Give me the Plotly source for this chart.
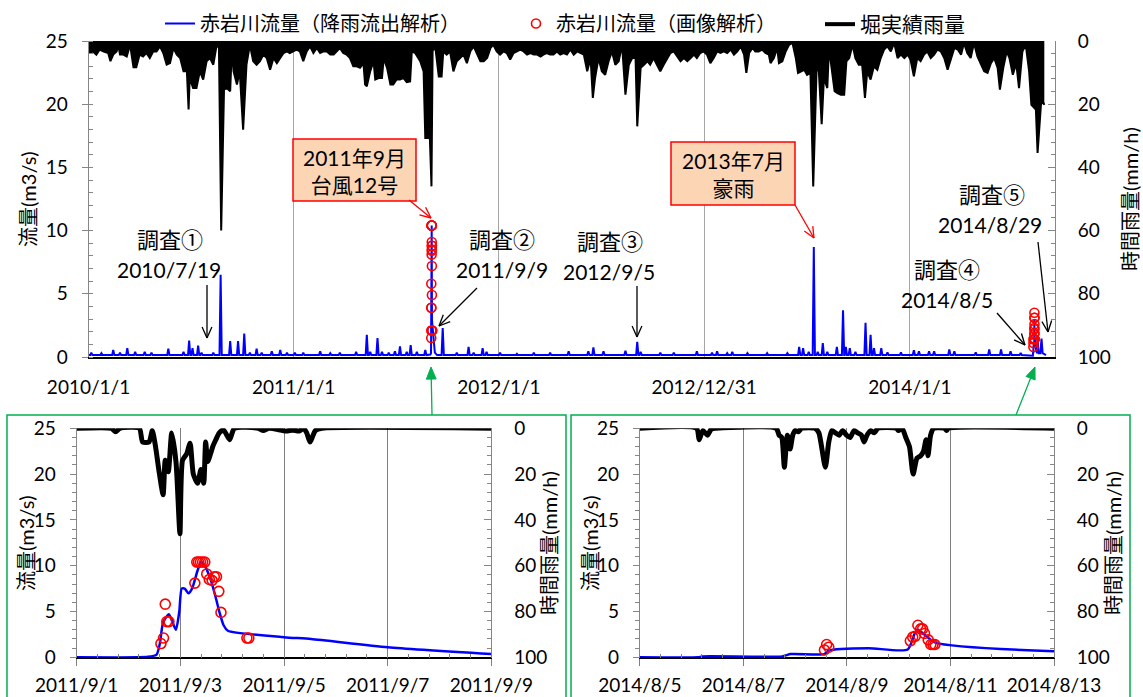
import math
import pandas as pd
import plotly.graph_objects as go

W, H = 1143, 697
FONT = "Lato, 'Noto Sans CJK JP', sans-serif"
JP = "'Noto Sans CJK JP', sans-serif"

# ---------------- main chart data (days since 2010-01-01) ----------------
main_start = "2010-01-01"
main_end_day = 1719

x_tick_dates = ["2010-01-01", "2011-01-01", "2012-01-01", "2012-12-31", "2014-01-01"]
x_tick_text = ["2010/1/1", "2011/1/1", "2012/1/1", "2012/12/31", "2014/1/1"]

flow_day = [0, 3, 5, 7, 21, 23, 25, 42, 44, 46, 54, 56, 58, 67, 69, 71, 81, 83, 85, 98, 100, 102,
            110, 112, 114, 140, 142, 144, 167, 169, 171, 177, 179, 181, 183, 185, 187, 193, 195, 197,
            199, 201, 203, 220, 222, 224, 233, 235, 237, 250, 252, 254, 264, 266, 268, 275, 277, 279,
            285, 287, 289, 297, 299, 301, 306, 308, 310, 324, 326, 328, 339, 341, 343, 351, 353, 355,
            365, 367, 369, 380, 382, 384, 410, 412, 414, 428, 430, 432, 445, 447, 449, 474, 476, 478,
            493, 495, 497, 499, 501, 503, 512, 514, 516, 520, 522, 524, 532, 534, 536, 543, 545, 547,
            552, 554, 556, 564, 566, 568, 571, 573, 575, 582, 584, 586, 597, 599, 601,
            604, 608, 609.2, 609.9, 610.4, 610.9, 612, 614, 616, 620,
            628, 630, 632,
            653, 655, 657, 674, 676, 678, 683, 685, 687, 699, 701, 703, 706, 708, 710, 730, 732, 734,
            760, 762, 764, 790, 792, 794, 819, 821, 823, 852, 854, 856, 887, 889, 891, 896, 898, 900,
            914, 916, 918, 953, 955, 957, 974, 976, 978, 980, 982, 984, 1015, 1017, 1019, 1039, 1041, 1043,
            1080, 1082, 1084, 1107, 1109, 1111, 1116, 1118, 1120, 1134, 1136, 1138,
            1143, 1145, 1147, 1170, 1172, 1174, 1205, 1207, 1209, 1241, 1243, 1245, 1262, 1264, 1266,
            1269, 1271, 1273, 1279, 1281, 1283, 1288, 1290, 1292, 1295, 1297, 1299, 1304, 1306, 1308,
            1312, 1314, 1316, 1329, 1331, 1333, 1340, 1342, 1344, 1345, 1347, 1349, 1352, 1354, 1356,
            1362, 1364, 1366, 1380, 1382, 1384, 1389, 1391, 1393, 1395, 1397, 1399, 1408, 1410, 1412,
            1419, 1421, 1423, 1443, 1445, 1447, 1466, 1468, 1470, 1475, 1477, 1479, 1493, 1495, 1497,
            1502, 1504, 1506, 1529, 1531, 1533, 1538, 1540, 1542, 1576, 1578, 1580, 1600, 1602, 1604,
            1621, 1623, 1625, 1638, 1640, 1642, 1656, 1658, 1660,
            1675, 1678, 1679.7, 1680.0, 1680.5, 1680.6, 1681.4, 1682.1, 1682.3, 1682.65, 1685, 1687,
            1688, 1690, 1693, 1695, 1697, 1700, 1703]
flow_val = [0.15, .15, .35, .15, .15, .3, .15, .15, .55, .15, .15, .35, .15, .15, .7, .15, .15, .4, .15,
            .15, .4, .15, .15, .35, .15, .15, .65, .15, .15, .4, .15, .15, 1.3, .15, .15, .7, .15,
            .15, .9, .15, .15, .35, .15, .15, .35, .15, .15, 6.5, .15, .15, 1.25, .15, .15, 1.25, .15,
            .15, 1.85, .15, .15, .35, .15, .15, .65, .15, .15, .35, .15, .15, .45, .15, .15, .55, .15,
            .15, .35, .15,
            .15, .35, .15, .15, .35, .15, .15, .45, .15, .15, .3, .15, .15, .35, .15, .15, .4, .15,
            .15, 1.75, .15, .15, .4, .15, .15, 1.5, .15, .15, .4, .15, .15, .35, .15, .15, .45, .15,
            .15, .85, .15, .15, .4, .15, .15, .95, .15, .15, .4, .15, .15, .55, .15,
            0.15, 0.2, 0.3, 4.7, 10.4, 2.9, 2.2, 1.1, 0.35, 0.15,
            .15, 2.3, .15,
            .15, .35, .15, .15, .8, .15, .15, .35, .15, .15, .7, .15, .15, .4, .15, .15, .35, .15,
            .15, .25, .15, .15, .35, .15, .15, .35, .15, .15, .45, .15, .15, .45, .15, .15, .75, .15,
            .15, .45, .15, .15, .5, .15, .15, 1.2, .15, .15, .4, .15, .15, .35, .15, .15, .35, .15,
            .15, .45, .15, .15, .35, .15, .15, .45, .15, .15, .3, .15,
            .15, .4, .15, .15, .3, .15, .15, .3, .15, .15, .3, .15, .15, .8, .15,
            .15, .7, .15, .15, .4, .15, .15, 8.7, .15, .15, .4, .15, .15, 1.1, .15,
            .15, .4, .15, .15, .8, .15, .15, 3.7, .15, .15, .8, .15, .15, .7, .15,
            .15, .4, .15, .15, 2.7, .15, .15, 1.75, .15, .15, .7, .15, .15, .7, .15,
            .15, .37, .15, .15, .37, .15, .15, .53, .15, .15, .45, .15, .15, .45, .15,
            .15, .45, .15, .15, .6, .15, .15, .45, .15, .15, .37, .15, .15, .6, .15,
            .15, .6, .15, .15, .45, .15, .15, .32, .15,
            0.15, 0.1, 0.1, 0.35, 0.35, 0.75, 1.0, 0.85, 3.0, 1.6, 0.65, 0.3,
            1.4, 0.3, 0.3, 1.45, 0.3, 0.2, 0.15]

rain_day = [0, 2, 8, 14, 20, 26, 35, 39, 44, 50, 53, 56, 62, 68, 74, 80, 85, 91, 97, 103,
            109, 115, 121, 127, 133, 139, 145, 151, 157, 163, 169, 175, 178, 180, 186, 192, 198, 204, 210, 216,
            222, 228, 232, 236, 241, 246, 252, 255, 258, 264, 269, 275, 281, 287, 293, 299, 305, 311, 317, 323,
            329, 335, 341, 347, 353, 358, 364, 370, 376, 382, 388, 394, 400, 406, 412, 418, 424, 430, 436, 442,
            447, 453, 459, 465, 471, 477, 483, 489, 492, 495, 501, 507, 510, 516, 522, 525, 531, 537, 542, 548,
            554, 560,
            566, 572, 575, 581, 590, 596, 599, 603, 607, 610, 612, 617, 623, 628, 631, 637, 643, 649, 655, 661,
            667, 673, 679, 685, 691, 697, 703, 709, 715, 720, 726, 732, 738, 744, 750, 756, 762, 768, 774, 780,
            786, 792, 798, 804, 809, 815, 821, 827, 833, 839, 845, 851, 857, 863, 869, 875, 881, 887, 893, 897,
            901, 907, 913, 919, 925, 931, 937, 943, 949, 955, 961, 967, 973, 976, 982, 988, 994, 999, 1005, 1011,
            1017, 1023, 1029, 1035, 1041, 1047, 1053, 1059, 1065, 1071, 1077, 1082, 1088, 1094, 1100, 1106, 1112,
            1118, 1124, 1130,
            1136, 1142, 1148, 1154, 1160, 1166, 1170, 1175, 1181, 1186, 1192, 1198, 1204, 1210, 1213, 1219, 1225,
            1228, 1234, 1240, 1246, 1252, 1258, 1262, 1267, 1273, 1278, 1284, 1289, 1295, 1299, 1304, 1308, 1314,
            1317, 1323, 1327, 1332, 1338, 1344, 1348, 1353, 1359, 1364, 1370, 1376, 1381, 1385, 1391, 1397, 1403,
            1409, 1415, 1421, 1427, 1433, 1439, 1445, 1451, 1457, 1462, 1468, 1474, 1480, 1486, 1492, 1498, 1504,
            1510, 1516, 1522, 1528, 1534, 1540, 1546, 1552, 1557, 1563, 1569, 1575, 1581, 1587, 1593, 1599, 1605,
            1611, 1617, 1621, 1627, 1633, 1638, 1644, 1650, 1655, 1661, 1667, 1673, 1677, 1682, 1685, 1688, 1694,
            1697, 1700]
rain_mm = [3.8, 3.8, 3.3, 4.3, 2.7, 3.3, 3.8, 6.4, 4.3, 3.3, 1.2, 4.3, 4.3, 4.9, 1.2, 8.3, 8.3, 4.3, 4.9, 3.8,
           5.4, 3.3, 3.3, 1.7, 3.8, 7.5, 7.0, 2.2, 4.3, 5.4, 9.6, 9.6, 21.7, 11.7, 14.9, 14.9, 9.6, 12.2, 6.4, 5.4,
           7.5, 1.2, 2.2, 60, 15.4, 14.9, 15.9, 2.2, 9.6, 13.8, 9.6, 28.1, 7.5, 1.2, 6.4, 7.5, 6.4, 4.3, 5.4, 9.1,
           5.4, 7.0, 5.4, 3.8, 3.3, 3.8, 3.3, 2.7, 3.3, 6.4, 3.3, 1.7, 3.8, 2.2, 3.8, 3.3, 3.3, 4.3, 4.3, 3.3,
           2.2, 3.8, 4.3, 5.4, 8.0, 8.0, 8.5, 7.0, 13.8, 14.3, 9.6, 6.4, 12.2, 11.7, 11.7, 5.4, 8.5, 13.8, 13.8, 12.2,
           12.2, 11.7,
           13, 12.8, 3.3, 3.8, 6.4, 9.6, 30.7, 30.7, 30, 46, 3, 2.2, 11.2, 11.2, 3.3, 4.3, 3.3, 9.6, 6.4, 5.4,
           4.3, 7.0, 3.3, 1.7, 4.3, 6.4, 6.4, 5.4, 2.2, 1.2, 3.3, 4.3, 3.3, 3.8, 5.9, 3.8, 3.3, 2.7, 3.3, 4.3,
           3.8, 4.3, 4.3, 4.9, 4.3, 3.8, 4.3, 4.3, 3.3, 4.3, 3.8, 4.3, 2.7, 4.3, 3.3, 3.8, 4.3, 9.6, 5.4, 18,
           11.7, 5.4, 9.6, 10.7, 6.4, 3.3, 7.5, 6.4, 1.2, 17, 7.5, 5.4, 5.4, 27, 8.5, 7.5, 6.4, 7.5, 5.4, 7.5,
           9.6, 7.5, 5.4, 3.8, 3.3, 4.9, 6.4, 5.4, 6.4, 5.4, 4.3, 5.4, 3.8, 3.3, 4.3, 7.0, 5.4,
           3.3, 3.8, 3.3,
           3.8, 2.7, 4.3, 3.3, 1.7, 4.3, 10.1, 3.8, 2.2, 3.3, 3.3, 2.7, 3.8, 4.3, 7.0, 5.4, 2.2,
           7.0, 6.4, 3.3, 1.2, 0.6, 5.4, 10.1, 9.6, 9.1, 10.7, 10.1, 46, 8.5, 9.6, 26.3, 11.7, 14.9,
           2.2, 9.6, 15.9, 16.5, 17, 17, 6.4, 5.4, 1.2, 5.4, 7.5, 7.5, 18, 9.6, 12.2, 8.0, 9.1,
           5.4, 2.7, 1.7, 3.3, 0.6, 5.4, 4.3, 5.4, 4.3, 5.9, 11.2, 5.4, 6.4, 4.3, 3.3, 5.4, 4.3,
           2.7, 3.3, 5.4, 9.1, 5.4, 2.2, 2.7, 4.3, 0.6, 3.8, 5.4, 0.6, 4.9, 7.5, 9.6, 10.1, 7.0,
           5.4, 8.5, 15.4, 8.5, 3.3, 5.4, 10.7, 7.0, 14.9, 3.3, 1.2, 9.6, 20.2, 21, 21.7, 35.4, 20.2,
           19, 20.2]

# ---------------- inset A (hours since 2011-09-01 00:00) ----------------
insetA_start = "2011-09-01"
insetA_ticks = ["2011-09-01", "2011-09-03", "2011-09-05", "2011-09-07", "2011-09-09"]
insetA_ticktext = ["2011/9/1", "2011/9/3", "2011/9/5", "2011/9/7", "2011/9/9"]
flowA_hour = [0, 28, 33, 37, 38.5, 40, 42.7, 45.9, 47.5, 48.6, 50, 51.7, 53.4, 56, 57.6, 59.3, 62, 64.4, 66,
              68, 70, 96, 108.5, 144, 192]
flowA_val = [0, 0, 0.05, 0.3, 1.5, 3.8, 4.7, 3.0, 5.0, 7.5, 7.5, 7.0, 7.5, 9.5, 10.4, 10.0, 8.5, 6.5, 5.0,
             3.5, 2.9, 2.2, 2.0, 1.1, 0.35]
circA_hour = [39, 40.2, 41, 41.7, 42.7, 54.7, 55.6, 56.4, 57.3, 58.3, 59.3, 60.2, 61.4, 62.7, 63.7, 64.7,
              65.8, 66.8, 78.8, 79.7]
circA_val = [1.5, 2.1, 5.8, 3.9, 3.9, 8.1, 10.4, 10.4, 10.4, 10.4, 10.4, 9.1, 8.5, 8.4, 8.8, 8.8, 7.2, 4.9,
             2.1, 2.1]
rainA_hour = [0, 16, 18, 20, 29, 30.5, 33.5, 35, 36.5, 38, 40, 41, 42.4, 44, 46, 47.8, 49, 51, 52.5, 54,
              56, 57.5, 58.8, 59.7, 60.7, 62, 63, 64.4, 66, 68, 70.8, 73, 84, 86.4, 89, 97, 100, 103, 105,
              106.5, 108, 110.5, 113.5, 192]
rainA_mm = [0, 0, 1.5, 0, 0, 6, 6, 1, 8, 18, 29, 14, 19, 2, 15, 46, 14, 11, 6.5, 20, 24, 18, 24, 6, 14.5,
            11, 8, 5, 2, 0.7, 5, 0, 0, 1, 0, 1.2, 0.8, 1.2, 0, 2, 6, 1, 0, 0]

# ---------------- inset B (hours since 2014-08-05 00:00) ----------------
insetB_start = "2014-08-05"
insetB_ticks = ["2014-08-05", "2014-08-07", "2014-08-09", "2014-08-11", "2014-08-13"]
insetB_ticktext = ["2014/8/5", "2014/8/7", "2014/8/9", "2014/8/11", "2014/8/13"]
flowB_hour = [0, 27, 29, 66, 70, 85.5, 87.6, 106, 124.2, 128.5, 137, 192]
flowB_val = [0, 0, 0.1, 0.1, 0.35, 0.35, 0.75, 1.0, 0.85, 3.0, 1.6, 0.65]
circB_hour = [85.6, 86.6, 87.6, 125.4, 126.5, 127.7, 128.9, 130.2, 131.1, 132.0, 133.7, 134.9, 135.9, 136.8]
circB_val = [0.8, 1.4, 1.1, 1.8, 2.2, 2.3, 3.5, 3.1, 3.1, 2.6, 1.9, 1.4, 1.4, 1.4]
rainB_hour = [0, 26.3, 27.5, 29.2, 31.4, 33, 35, 63.2, 64.6, 65.8, 67, 68.4, 69.7, 70.9, 72, 73.5, 75,
              81.2, 83, 86, 87.6, 89, 90.7, 92.4, 94, 95.8, 97.5, 99.3, 101, 102.7, 104, 105.3, 107, 108.7,
              110.4, 119, 119.9, 121.6, 123.3, 125, 126.7, 128.5, 130.2, 131.5, 132.7, 133.6, 134.8, 136.2,
              141.3, 142.2, 143, 192]
rainB_mm = [0, 0, 5, 1, 3, 0.5, 0, 0, 3, 4, 17, 3, 9, 3, 1, 1.5, 0, 0, 2, 17, 6, 1, 2, 3, 1, 3, 4, 1, 2, 3,
            6, 3, 1, 2, 0, 0, 1, 0, 4, 8, 20, 13, 12, 10, 5, 12, 3, 0, 0, 1, 0, 0]

legend_names = ["赤岩川流量（降雨流出解析）", "赤岩川流量（画像解析）", "堀実績雨量"]


# ---------------- helpers ----------------
def by_days(start, days):
    return [pd.Timestamp(start) + pd.Timedelta(days=d) for d in days]


def by_hours(start, hours):
    return [pd.Timestamp(start) + pd.Timedelta(hours=h) for h in hours]


def px(x):
    return x / W


def py(y):
    return 1 - y / H


BLUE = "#0000FF"
RED = "#FF0000"
GREEN = "#00B050"
AXC = "#868686"

fig = go.Figure()

# main chart traces
fig.add_trace(go.Scatter(x=by_days(main_start, rain_day), y=rain_mm, xaxis="x", yaxis="y2",
                         mode="lines", line=dict(color="black", width=2), fill="tozeroy",
                         fillcolor="black", showlegend=False, hoverinfo="skip"))
fig.add_trace(go.Scatter(x=by_days(main_start, flow_day), y=flow_val, xaxis="x", yaxis="y",
                         mode="lines", line=dict(color=BLUE, width=2), name=legend_names[0],
                         legend="legend"))
fig.add_trace(go.Scatter(x=by_hours(insetA_start, circA_hour) + by_hours(insetB_start, circB_hour),
                         y=circA_val + circB_val, xaxis="x", yaxis="y", mode="markers",
                         marker=dict(symbol="circle-open", color=RED, size=9, line=dict(width=1.6)),
                         name=legend_names[1], legend="legend2"))
fig.add_trace(go.Scatter(x=[None], y=[None], xaxis="x", yaxis="y2", mode="lines",
                         line=dict(color="black", width=4), name=legend_names[2], legend="legend3"))

# inset A
fig.add_trace(go.Scatter(x=by_hours(insetA_start, flowA_hour), y=flowA_val, xaxis="x2", yaxis="y3",
                         mode="lines", line=dict(color=BLUE, width=2.5, shape="spline", smoothing=0.6),
                         showlegend=False))
fig.add_trace(go.Scatter(x=by_hours(insetA_start, circA_hour), y=circA_val, xaxis="x2", yaxis="y3",
                         mode="markers", marker=dict(symbol="circle-open", color=RED, size=10,
                                                     line=dict(width=1.6)), showlegend=False))
fig.add_trace(go.Scatter(x=by_hours(insetA_start, rainA_hour), y=rainA_mm, xaxis="x2", yaxis="y4",
                         mode="lines", line=dict(color="black", width=5, shape="spline", smoothing=0.6),
                         showlegend=False))
# inset B
fig.add_trace(go.Scatter(x=by_hours(insetB_start, flowB_hour), y=flowB_val, xaxis="x3", yaxis="y5",
                         mode="lines", line=dict(color=BLUE, width=2.5, shape="spline", smoothing=0.6),
                         showlegend=False))
fig.add_trace(go.Scatter(x=by_hours(insetB_start, circB_hour), y=circB_val, xaxis="x3", yaxis="y5",
                         mode="markers", marker=dict(symbol="circle-open", color=RED, size=10,
                                                     line=dict(width=1.6)), showlegend=False))
fig.add_trace(go.Scatter(x=by_hours(insetB_start, rainB_hour), y=rainB_mm, xaxis="x3", yaxis="y6",
                         mode="lines", line=dict(color="black", width=5, shape="spline", smoothing=0.6),
                         showlegend=False))

TF = dict(size=19, family=FONT, color="black")


def yleft(domain, anchor, minor_out):
    return dict(domain=domain, anchor=anchor, range=[0, 25], tickvals=[0, 5, 10, 15, 20, 25],
                showgrid=False, zeroline=False, showline=True, linecolor=AXC, linewidth=1,
                ticks="outside", ticklen=6, tickcolor=AXC, tickfont=TF, ticklabelstandoff=10,
                automargin=False,
                minor=dict(dtick=1, ticks="outside" if minor_out else "inside", ticklen=4,
                           tickcolor=AXC, showgrid=False), fixedrange=True)


def yright(over, anchor):
    return dict(overlaying=over, anchor=anchor, side="right", range=[100, 0],
                tickvals=[0, 20, 40, 60, 80, 100], showgrid=False, zeroline=False, showline=True,
                linecolor=AXC, linewidth=1, ticks="inside", ticklen=7, tickcolor=AXC, tickfont=TF,
                ticklabelstandoff=18, automargin=False,
                minor=dict(dtick=4, ticks="inside", ticklen=4, tickcolor=AXC, showgrid=False))


def xinset(domain, anchor, start, ticks, ticktext):
    t0 = pd.Timestamp(start)
    return dict(domain=domain, anchor=anchor, type="date",
                range=[t0, t0 + pd.Timedelta(days=8)], tickvals=ticks, ticktext=ticktext,
                showgrid=True, gridcolor="#7F7F7F", gridwidth=1, showline=True, linecolor="black",
                linewidth=1.5, ticks="outside", ticklen=7, tickcolor="#7F7F7F", tickfont=TF,
                ticklabelstandoff=3, zeroline=False, tickangle=0, automargin=False,
                minor=dict(dtick=0.4 * 86400000, tick0=t0, ticks="inside", ticklen=4,
                           tickcolor="#7F7F7F", showgrid=False))


t_main0 = pd.Timestamp(main_start)
fig.update_layout(
    template="none",
    width=W, height=H, margin=dict(l=0, r=0, t=0, b=0, autoexpand=False),
    paper_bgcolor="white", plot_bgcolor="white",
    font=dict(family=FONT, color="black"),
    xaxis=dict(domain=[px(88.5), px(1055)], anchor="y", type="date",
               range=[t_main0, t_main0 + pd.Timedelta(days=main_end_day)],
               tickvals=x_tick_dates, ticktext=x_tick_text, showgrid=True, gridcolor="#A6A6A6",
               gridwidth=1, showline=True, linecolor="black", linewidth=1.5, ticks="",
               tickfont=TF, ticklabelstandoff=12, zeroline=False, tickangle=0, automargin=False),
    yaxis=yleft([py(357), py(41)], "x", False),
    yaxis2=yright("y", "x"),
    xaxis2=xinset([px(76.7), px(491.4)], "y3", insetA_start, insetA_ticks, insetA_ticktext),
    yaxis3=yleft([py(657.3), py(428.3)], "x2", True),
    yaxis4=yright("y3", "x2"),
    xaxis3=xinset([px(639.8), px(1054)], "y5", insetB_start, insetB_ticks, insetB_ticktext),
    yaxis5=yleft([py(657.3), py(428.3)], "x3", True),
    yaxis6=yright("y5", "x3"),
    legend=dict(x=px(160), y=py(4), xanchor="left", yanchor="top", orientation="h",
                font=dict(size=20, family=JP), bgcolor="rgba(0,0,0,0)"),
    legend2=dict(x=px(516), y=py(4), xanchor="left", yanchor="top", orientation="h",
                 font=dict(size=20, family=JP), bgcolor="rgba(0,0,0,0)"),
    legend3=dict(x=px(820), y=py(4), xanchor="left", yanchor="top", orientation="h",
                 font=dict(size=21, family=JP), bgcolor="rgba(0,0,0,0)"),
)

shapes = []
annotations = []


def to_paper(x, y):
    return px(x), py(y)


def seg(x0, y0, x1, y1, color, width):
    a, b = to_paper(x0, y0)
    c, d = to_paper(x1, y1)
    shapes.append(dict(type="line", xref="paper", yref="paper", x0=a, y0=b, x1=c, y1=d,
                       line=dict(color=color, width=width)))


def arrow(x0, y0, x1, y1, color, width=1.3, head=12, ang=24, filled=False):
    dx, dy = x1 - x0, y1 - y0
    L = math.hypot(dx, dy)
    ux, uy = dx / L, dy / L
    pts = []
    for s in (1, -1):
        a = math.radians(ang) * s
        c, sn = math.cos(a), math.sin(a)
        hx = -(ux * c - uy * sn) * head
        hy = -(ux * sn + uy * c) * head
        pts.append((x1 + hx, y1 + hy))
    if filled:
        bx = x1 - ux * head * math.cos(math.radians(ang))
        by = y1 - uy * head * math.cos(math.radians(ang))
        seg(x0, y0, bx, by, color, width)
        p = [to_paper(x1, y1), to_paper(*pts[0]), to_paper(*pts[1])]
        path = "M {} {} L {} {} L {} {} Z".format(p[0][0], p[0][1], p[1][0], p[1][1], p[2][0], p[2][1])
        shapes.append(dict(type="path", xref="paper", yref="paper", path=path,
                           fillcolor=color, line=dict(color=color, width=1)))
    else:
        seg(x0, y0, x1, y1, color, width)
        for (hx, hy) in pts:
            seg(x1, y1, hx, hy, color, width)


def rect(x0, y0, x1, y1, line, width, fill=None):
    a, b = to_paper(x0, y0)
    c, d = to_paper(x1, y1)
    shapes.append(dict(type="rect", xref="paper", yref="paper", x0=a, y0=d, x1=c, y1=b,
                       line=dict(color=line, width=width),
                       fillcolor=fill if fill else "rgba(0,0,0,0)", layer="above"))


def text(x, y, s, size=21, angle=0, family=FONT):
    a, b = to_paper(x, y)
    annotations.append(dict(x=a, y=b, xref="paper", yref="paper", text=s, showarrow=False,
                            xanchor="center", yanchor="middle", textangle=angle,
                            font=dict(size=size, family=family, color="black")))


# green inset frames and connectors
rect(7, 415, 566, 712, GREEN, 1.5)
rect(571, 415, 1130, 712, GREEN, 1.5)
arrow(432, 415, 431, 367, GREEN, width=1.3, head=13, ang=22, filled=True)
arrow(1016, 415, 1035, 367, GREEN, width=1.3, head=13, ang=22, filled=True)

# event callouts
rect(293, 139, 416, 201, RED, 1.5, "#FCD5B4")
rect(671, 142, 795, 205, RED, 1.5, "#FCD5B4")
text(354.5, 171, "2011年9月<br>台風12号", size=21)
text(733, 174, "2013年7月<br>豪雨", size=21)
arrow(409, 200, 431, 218, RED, width=1.3)
arrow(795, 205, 814, 238, RED, width=1.3)

# survey labels
text(170, 238, "調査①", size=22, family=JP)
text(169, 269, "2010/7/19", size=21)
arrow(207, 285, 207, 338, "black")
text(502, 238, "調査②", size=22, family=JP)
text(502, 269, "2011/9/9", size=21)
arrow(477, 288, 439, 326, "black")
text(610, 240, "調査③", size=22, family=JP)
text(609, 271, "2012/9/5", size=21)
arrow(637, 286, 637, 337, "black")
text(947, 268, "調査④", size=22, family=JP)
text(947, 299, "2014/8/5", size=21)
arrow(997, 313, 1025, 345, "black")
text(992, 193, "調査⑤", size=22, family=JP)
text(990, 225, "2014/8/29", size=21)
arrow(1038, 242, 1048, 332, "black")

# axis titles
text(28, 199, "流量(m3/s)", size=20, angle=-90)
text(1130, 199, "時間雨量(mm/h)", size=20, angle=-90)
text(26, 543, "流量(m3/s)", size=20, angle=-90)
text(549, 543, "時間雨量(mm/h)", size=20, angle=-90)
text(590, 543, "流量(m3/s)", size=20, angle=-90)
text(1113, 543, "時間雨量(mm/h)", size=20, angle=-90)

fig.update_layout(shapes=shapes, annotations=annotations)
fig.write_html("out.html")
